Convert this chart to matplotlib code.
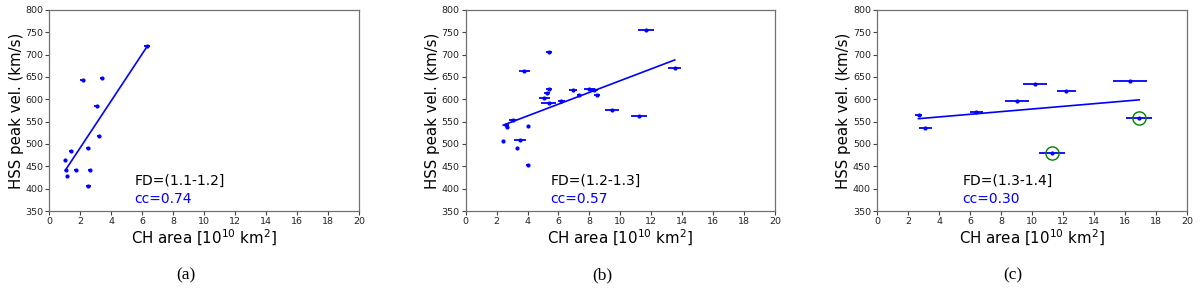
import matplotlib
matplotlib.use("Agg")
import matplotlib.pyplot as plt
import numpy as np

# panel (a): FD = (1.1-1.2]
a_area = [6.32, 2.15, 3.38, 3.05, 3.23, 2.49, 1.38, 1.03, 1.10, 1.72, 2.60, 1.12, 2.52]
a_vel = [719, 644, 648, 585, 517, 490, 484, 465, 442, 441, 442, 429, 407]
a_err = [0.2, 0.18, 0.12, 0.15, 0.12, 0.15, 0.08, 0.06, 0.08, 0.15, 0.1, 0.06, 0.15]

# panel (b): FD = (1.2-1.3]
b_area = [5.37, 3.78, 11.66, 13.51, 5.37, 5.24, 5.07, 5.37, 6.19, 6.94, 7.33, 8.0,
          8.28, 8.5, 9.45, 11.19, 2.64, 2.68, 3.07, 4.04, 3.52, 2.43, 3.33, 4.0]
b_vel = [706, 664, 754, 670, 622, 615, 602, 591, 597, 620, 609, 624,
         621, 609, 576, 563, 543, 539, 553, 541, 509, 506, 490, 454]
b_err = [0.2, 0.35, 0.5, 0.42, 0.2, 0.2, 0.35, 0.48, 0.2, 0.25, 0.15, 0.35,
         0.3, 0.2, 0.43, 0.52, 0.15, 0.1, 0.25, 0.08, 0.4, 0.05, 0.08, 0.1]

# panel (c): FD = (1.3-1.4]
c_area = [2.67, 3.10, 6.41, 9.03, 10.17, 12.22, 16.34, 16.92, 11.29]
c_vel = [565, 535, 571, 597, 635, 619, 640, 557, 480]
c_err = [0.2, 0.42, 0.4, 0.75, 0.77, 0.6, 1.1, 0.86, 0.86]
c_circled = [7, 8]

fd_labels = ["FD=(1.1-1.2]", "FD=(1.2-1.3]", "FD=(1.3-1.4]"]
cc_labels = ["cc=0.74", "cc=0.57", "cc=0.30"]
captions = ["(a)", "(b)", "(c)"]

panels = [
    (a_area, a_vel, a_err, []),
    (b_area, b_vel, b_err, []),
    (c_area, c_vel, c_err, c_circled),
]

fig = plt.figure(figsize=(12, 2.94), dpi=100)
lefts = [0.0411, 0.388, 0.731]
cap_x = [0.155, 0.502, 0.844]

for i, (xs, ys, errs, circ) in enumerate(panels):
    ax = fig.add_axes([lefts[i], 0.2823, 0.258, 0.684])
    xs = np.array(xs)
    ys = np.array(ys)
    ax.errorbar(xs, ys, xerr=errs, fmt="o", color="blue", ms=2.0,
                elinewidth=1.3, capsize=0)
    # linear fit through the points
    k, b = np.polyfit(xs, ys, 1)
    xl = np.array([xs.min(), xs.max()])
    ax.plot(xl, k * xl + b, color="blue", lw=1.2)
    for j in circ:
        ax.plot(xs[j], ys[j], "o", mfc="none", mec="green", ms=9.5, mew=1.0)
    ax.text(5.5, 417, fd_labels[i], fontsize=10, color="black", va="center")
    ax.text(5.5, 377, cc_labels[i], fontsize=10, color="blue", va="center")
    ax.set_xlim(0, 20)
    ax.set_ylim(350, 800)
    ax.set_xticks(range(0, 21, 2))
    ax.set_yticks(range(350, 801, 50))
    ax.tick_params(labelsize=6.8, length=3, width=0.8, color="#444444",
                   labelcolor="#222222", pad=1.5)
    for sp in ax.spines.values():
        sp.set_color("#707070")
        sp.set_linewidth(0.9)
    ax.set_xlabel(r"CH area [10$^{10}$ km$^2$]", fontsize=10.8, labelpad=1)
    ax.set_ylabel("HSS peak vel. (km/s)", fontsize=10.8, labelpad=1)
    fig.text(cap_x[i], 0.062, captions[i], fontsize=12.5,
             family="Liberation Serif", ha="center", va="center")

plt.savefig("out.png", dpi=100)
